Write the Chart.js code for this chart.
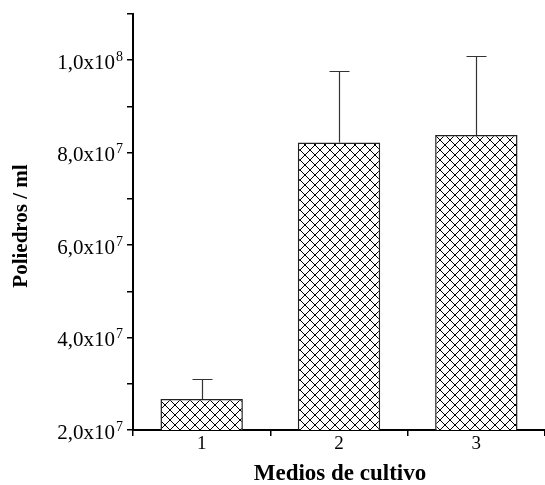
<!DOCTYPE html>
<html>
<head>
<meta charset="utf-8">
<script src="https://cdn.jsdelivr.net/npm/chart.js@4"></script>
<style>
html,body{margin:0;padding:0;background:#fff;}
#wrap{width:545px;height:485px;position:relative;}
</style>
</head>
<body>
<div id="wrap"><canvas id="c"></canvas></div>
<script>
const categories = ['1', '2', '3'];
const means = [2.67e7, 8.22e7, 8.38e7];
const errors = [0.43e7, 1.55e7, 1.71e7];
const yMin = 2e7;
const yMax = 1.1e8;
const yStep = 1e7;
const yTickValues = [2e7, 4e7, 6e7, 8e7, 1e8];
const yTickMantissa = ['2,0x10', '4,0x10', '6,0x10', '8,0x10', '1,0x10'];
const yTickExponent = ['7', '7', '7', '7', '8'];
const yTitle = 'Poliedros / ml';
const xTitle = 'Medios de cultivo';

function hatch() {
  const p = 10;
  const c = document.createElement('canvas');
  c.width = p; c.height = p;
  const g = c.getContext('2d');
  g.fillStyle = '#fff'; g.fillRect(0, 0, p, p);
  g.strokeStyle = '#000'; g.lineWidth = 1;
  g.beginPath();
  g.moveTo(-1, -1); g.lineTo(p + 1, p + 1);
  g.moveTo(-1, p + 1); g.lineTo(p + 1, -1);
  g.stroke();
  return g.createPattern(c, 'repeat');
}

const serif = "'Liberation Serif', 'Times New Roman', serif";
const yTickFont = 21, yTickPad = 12, yTickLen = 6;

const extras = {
  id: 'extras',
  afterDatasetsDraw(chart) {
    const ctx = chart.ctx, xs = chart.scales.x, ys = chart.scales.y;
    ctx.save();
    ctx.strokeStyle = '#333'; ctx.lineWidth = 1.2;
    means.forEach((m, i) => {
      const x = Math.round(xs.getPixelForValue(i)) + 0.5;
      const yb = ys.getPixelForValue(m);
      const yt = Math.round(ys.getPixelForValue(m + errors[i])) + 0.5;
      ctx.beginPath();
      ctx.moveTo(x, yb); ctx.lineTo(x, yt);
      ctx.moveTo(x - 10, yt); ctx.lineTo(x + 10, yt);
      ctx.stroke();
    });
    ctx.restore();
  },
  afterDraw(chart) {
    const ctx = chart.ctx, a = chart.chartArea, ys = chart.scales.y;
    ctx.save();
    ctx.fillStyle = '#000';
    ctx.font = "14px " + serif;
    ctx.textAlign = 'left'; ctx.textBaseline = 'alphabetic';
    yTickValues.forEach((v, i) => {
      const y = ys.getPixelForValue(v);
      const x = ys.right - yTickLen - yTickPad + 1;
      ctx.fillText(yTickExponent[i], x, y + 0.5);
    });
    ctx.restore();
    ctx.save();
    ctx.fillStyle = '#000';
    ctx.font = "bold 21px " + serif;
    ctx.textAlign = 'center'; ctx.textBaseline = 'middle';
    ctx.translate(22, (a.top + a.bottom) / 2 + 4);
    ctx.rotate(-Math.PI / 2);
    ctx.fillText(yTitle, 0, 0);
    ctx.restore();
    ctx.save();
    ctx.fillStyle = '#000';
    ctx.font = "bold 23px " + serif;
    ctx.textAlign = 'center'; ctx.textBaseline = 'middle';
    ctx.fillText(xTitle, (a.left + a.right) / 2 + 1, 474);
    ctx.restore();
  }
};

new Chart(document.getElementById('c'), {
  type: 'bar',
  data: {
    labels: categories,
    datasets: [{
      data: means,
      backgroundColor: hatch(),
      borderColor: '#222',
      borderWidth: 1.5,
      borderSkipped: false,
      barPercentage: 0.6,
      categoryPercentage: 1.0
    }]
  },
  options: {
    responsive: true,
    maintainAspectRatio: false,
    animation: false,
    layout: {padding: {top: 14, right: 0, left: 0, bottom: 0}},
    plugins: {legend: {display: false}, tooltip: {enabled: false}},
    scales: {
      x: {
        offset: true,
        grid: {offset: true, drawOnChartArea: false, drawTicks: true, tickLength: 6, color: '#000', lineWidth: 1.5},
        border: {display: true, color: '#000', width: 2},
        ticks: {color: '#000', font: {family: serif, size: 19}, padding: -3, maxRotation: 0},
        afterFit(s) { s.height = 55; s.paddingLeft = 0; s.paddingRight = 0; }
      },
      y: {
        min: yMin, max: yMax,
        grid: {drawOnChartArea: false, drawTicks: true, tickLength: yTickLen, color: '#000', lineWidth: 1.5},
        border: {display: true, color: '#000', width: 2},
        ticks: {
          stepSize: yStep, color: '#000', font: {family: serif, size: yTickFont}, padding: yTickPad, autoSkip: false,
          labelOffset: 3,
          callback: (v) => {
            const i = yTickValues.findIndex(t => Math.abs(t - v) < 1);
            return i >= 0 ? yTickMantissa[i] : '';
          }
        },
        afterFit(s) { s.width = 133; s.paddingTop = 0; s.paddingBottom = 0; }
      }
    }
  },
  plugins: [extras]
});
</script>
</body>
</html>
